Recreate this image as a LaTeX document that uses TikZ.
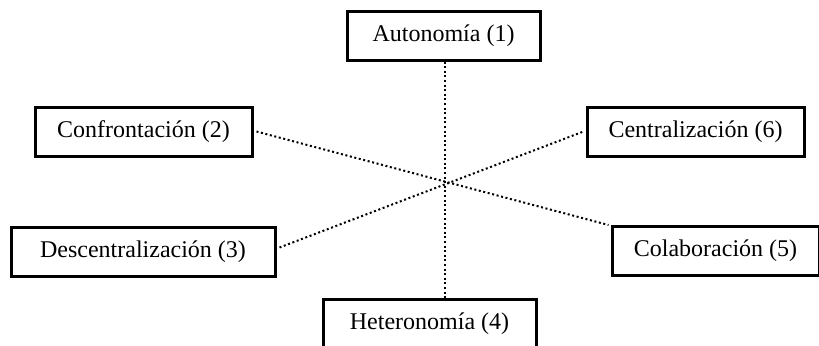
\documentclass[tikz,border=0pt]{standalone}
\usepackage{fontspec}
\setmainfont{Liberation Serif}
\usetikzlibrary{positioning}

\begin{document}
\begin{tikzpicture}[
    x=0.5pt, y=-0.5pt,
    dim/.style  = {rectangle, draw=black, line width=1.5pt, fill=white,
                   minimum height=24.5pt, inner sep=2pt, font=\fontsize{12}{14}\selectfont},
    axis/.style = {line width=1pt, dash pattern=on 1pt off 1.3pt},
]
  \useasboundingbox (0,0) rectangle (819,345);

  \node[dim, minimum width=96.5pt]  (auto) at (443.5,35.5)  {Autonomía (1)};
  \node[dim, minimum width=108.5pt] (conf) at (143.5,131.5) {Confrontación (2)};
  \node[dim, minimum width=108.5pt] (cent) at (695.5,131.5) {Centralización (6)};
  \node[dim, minimum width=132pt]   (desc) at (143,251.5)   {Descentralización (3)};
  \node[dim, minimum width=103.5pt] (col)  at (715.5,251)   {Colaboración (5)};
  \node[dim, minimum width=106.5pt] (het)  at (429.5,323.5) {Heteronomía (4)};

  % dotted axes
  \draw[axis] ([xshift=0.75pt]auto.south) -- ([xshift=0.75pt]auto.south |- het.north);
  \draw[axis] ([xshift=1.5pt]conf.east) -- ([xshift=-1pt]col.north west);
  \draw[axis] ([xshift=1.5pt,yshift=2pt]desc.east) -- ([xshift=-1pt]cent.west);

\end{tikzpicture}
\end{document}
